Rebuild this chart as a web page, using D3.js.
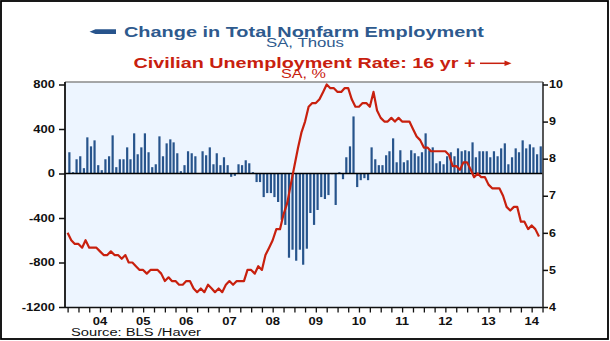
<!DOCTYPE html>
<html><head><meta charset="utf-8">
<script src="https://cdn.jsdelivr.net/npm/d3@7"></script>
<style>body{margin:0;background:#fff}svg{display:block}</style>
</head><body><svg id="c" width="610" height="341"></svg>
<script>
// ---- data (monthly, Oct 2003 .. Sep 2014) ----
const startYear = 2003, startMonth = 9; // October 2003 (0-based month index)
const payrollChange = [
  191, 12, 128,
  155, 48, 325, 244, 298, 75, 30, 128, 155, 343, 57, 128,
  128, 235, 128, 361, 173, 235, 361, 191, 57, 83, 334, 155,
  271, 307, 280, 182, 21, 75, 200, 182, 155, 3, 200, 164,
  235, 83, 182, 75, 146, 75, -30, -21, 83, 75, 119, 92,
  12, -77, -77, -212, -176, -176, -212, -256, -417, -462, -757, -685,
  -784, -685, -820, -676, -355, -462, -328, -212, -229, -194, -6, -283,
  12, -51, 146, 244, 513, -122, -60, -42, -60, 235, 128, 75,
  75, 164, 200, 316, 101, 209, 101, 119, 209, 182, 155, 191,
  361, 209, 235, 92, 110, 83, 155, 191, 155, 226, 200, 209,
  200, 280, 146, 200, 200, 200, 146, 200, 155, 226, 271, 83,
  146, 226, 191, 298, 226, 262, 235, 173, 244
];
const unemploymentRate = [
  6.0, 5.8, 5.7,
  5.7, 5.6, 5.8, 5.6, 5.6, 5.6, 5.5, 5.4, 5.4, 5.5, 5.4, 5.4,
  5.3, 5.4, 5.2, 5.2, 5.1, 5.0, 5.0, 4.9, 5.0, 5.0, 5.0, 4.9,
  4.7, 4.8, 4.7, 4.7, 4.6, 4.6, 4.7, 4.7, 4.5, 4.4, 4.5, 4.4,
  4.6, 4.5, 4.4, 4.5, 4.4, 4.6, 4.7, 4.6, 4.7, 4.7, 4.7, 5.0,
  5.0, 4.9, 5.1, 5.0, 5.4, 5.6, 5.8, 6.1, 6.1, 6.5, 6.8, 7.3,
  7.8, 8.3, 8.7, 9.0, 9.4, 9.5, 9.5, 9.6, 9.8, 10.0, 9.9, 9.9,
  9.8, 9.8, 9.9, 9.9, 9.6, 9.4, 9.4, 9.5, 9.5, 9.4, 9.8, 9.3,
  9.1, 9.0, 9.0, 9.1, 9.0, 9.1, 9.0, 9.0, 9.0, 8.8, 8.6, 8.5,
  8.3, 8.3, 8.2, 8.2, 8.2, 8.2, 8.2, 8.1, 7.8, 7.8, 7.7, 7.9,
  7.9, 7.7, 7.5, 7.6, 7.5, 7.5, 7.3, 7.2, 7.2, 7.2, 7.0, 6.7,
  6.6, 6.7, 6.7, 6.3, 6.3, 6.1, 6.2, 6.1, 5.9
];
const leftTicks = [800, 400, 0, -400, -800, -1200];
const rightTicks = [4, 5, 6, 7, 8, 9, 10];
const yearLabels = ["04","05","06","07","08","09","10","11","12","13","14"];
const yearValues = [2004,2005,2006,2007,2008,2009,2010,2011,2012,2013,2014];
const title1 = "Change in Total Nonfarm Employment";
const sub1 = "SA, Thous";
const title2 = "Civilian Unemployment Rate: 16 yr +";
const sub2 = "SA, %";
const source = "Source:  BLS /Haver";

// ---- setup ----
const BLUE = "#27548c", TBLUE = "#2e5a8e", RED = "#c8200e";
const FONT = "'Liberation Sans', Arial, sans-serif";
const L = 65, R = 543, T = 82, B = 307.5;
const svg = d3.select("#c");

const months = unemploymentRate.map((_, i) => new Date(startYear, startMonth + i, 1));
const x = d3.scaleTime().domain([new Date(2003, 8, 9), new Date(2014, 9, 5)]).range([L, R]);
const yL = d3.scaleLinear().domain([-1200, 800]).range([307, 84.5]);
const yR = d3.scaleLinear().domain([4, 10]).range([307, 84.5]);

// outer border
svg.append("rect").attr("x", 1).attr("y", 1).attr("width", 607).attr("height", 338)
  .attr("fill", "#fff").attr("stroke", "#000").attr("stroke-width", 1.8);

// plot background
svg.append("rect").attr("x", L).attr("y", T).attr("width", R - L).attr("height", B - T)
  .attr("fill", "#edf5ff");

// bars
const bw = 2.2;
svg.append("g").selectAll("rect").data(payrollChange).join("rect")
  .attr("x", (d, i) => x(new Date(startYear, startMonth + i, 16)) - bw / 2)
  .attr("width", bw)
  .attr("y", d => yL(Math.max(0, d)))
  .attr("height", d => Math.abs(yL(d) - yL(0)))
  .attr("fill", BLUE);

// zero line
svg.append("line").attr("x1", L).attr("x2", R).attr("y1", yL(0)).attr("y2", yL(0))
  .attr("stroke", "#000").attr("stroke-width", 1.6);

// unemployment line
svg.append("path").datum(unemploymentRate)
  .attr("d", d3.line().x((d, i) => x(months[i])).y(d => yR(d)))
  .attr("fill", "none").attr("stroke", RED).attr("stroke-width", 2.2)
  .attr("stroke-linejoin", "round");

// frame
svg.append("line").attr("x1", L).attr("x2", R).attr("y1", T).attr("y2", T).attr("stroke", "#8a8a8a").attr("stroke-width", 1.5);
svg.append("line").attr("x1", L).attr("x2", R).attr("y1", B).attr("y2", B).attr("stroke", "#111").attr("stroke-width", 1.5);
svg.append("line").attr("x1", L).attr("x2", L).attr("y1", T).attr("y2", B).attr("stroke", "#111").attr("stroke-width", 1.8);
svg.append("line").attr("x1", R).attr("x2", R).attr("y1", T).attr("y2", B).attr("stroke", "#444").attr("stroke-width", 1.8);

// left axis
const gL = svg.append("g").attr("transform", `translate(${L},0)`)
  .call(d3.axisLeft(yL).tickValues(leftTicks).tickSize(6).tickFormat(""));
gL.select(".domain").remove();
gL.selectAll("line").attr("stroke", "#111").attr("stroke-width", 1.5);
leftTicks.forEach(v => {
  svg.append("text").attr("transform", `translate(55,${yL(v) + 3.7}) scale(1.3,1)`)
    .attr("text-anchor", "end").attr("font-family", FONT).attr("font-weight", "bold")
    .attr("font-size", 10).attr("fill", "#111").text(v);
});

// right axis
const gR = svg.append("g").attr("transform", `translate(${R},0)`)
  .call(d3.axisRight(yR).tickValues(rightTicks).tickSize(5).tickFormat(""));
gR.select(".domain").remove();
gR.selectAll("line").attr("stroke", "#111").attr("stroke-width", 1.5);
rightTicks.forEach(v => {
  svg.append("text").attr("transform", `translate(549,${yR(v) + 3.7}) scale(1.25,1)`)
    .attr("text-anchor", "start").attr("font-family", FONT).attr("font-weight", "bold")
    .attr("font-size", 10).attr("fill", "#111").text(v);
});

// bottom axis: quarterly ticks
const qTicks = d3.timeMonth.range(new Date(2003, 9, 1), new Date(2014, 9, 2), 3);
const gB = svg.append("g").attr("transform", `translate(0,${B})`)
  .call(d3.axisBottom(x).tickValues(qTicks).tickSize(5).tickFormat(""));
gB.select(".domain").remove();
gB.selectAll("line").attr("stroke", "#111").attr("stroke-width", 1.3);
yearValues.forEach((yv, i) => {
  const xm = x(new Date(yv, 6, 1));
  svg.append("text").attr("transform", `translate(${xm},324.8) scale(1.3,1)`)
    .attr("text-anchor", "middle").attr("font-family", FONT).attr("font-weight", "bold")
    .attr("font-size", 10).attr("fill", "#111").text(yearLabels[i]);
});

// source
svg.append("text").attr("x", 71).attr("y", 336.4).attr("font-family", FONT)
  .attr("font-size", 10).attr("fill", "#111")
  .attr("textLength", 130).attr("lengthAdjust", "spacingAndGlyphs").text(source);

// titles
svg.append("path").attr("d", "M89.5,31.7 L95.5,29.3 L116,29.3 L116,34.1 L95.5,34.1 Z").attr("fill", BLUE);
svg.append("text").attr("x", 124).attr("y", 37.3).attr("font-family", FONT).attr("font-weight", "bold")
  .attr("font-size", 15.5).attr("fill", TBLUE)
  .attr("textLength", 360).attr("lengthAdjust", "spacingAndGlyphs").text(title1);
svg.append("text").attr("x", 266).attr("y", 47.3).attr("font-family", FONT)
  .attr("font-size", 12.5).attr("fill", TBLUE)
  .attr("textLength", 78).attr("lengthAdjust", "spacingAndGlyphs").text(sub1);
svg.append("text").attr("x", 133.5).attr("y", 68.3).attr("font-family", FONT).attr("font-weight", "bold")
  .attr("font-size", 15.5).attr("fill", RED)
  .attr("textLength", 342).attr("lengthAdjust", "spacingAndGlyphs").text(title2);
svg.append("line").attr("x1", 480).attr("x2", 508).attr("y1", 63.3).attr("y2", 63.3)
  .attr("stroke", RED).attr("stroke-width", 1.5);
svg.append("path").attr("d", "M511.5,63.3 L504.5,60.6 L504.5,66 Z").attr("fill", RED);
svg.append("text").attr("x", 281).attr("y", 78.3).attr("font-family", FONT)
  .attr("font-size", 12.5).attr("fill", RED)
  .attr("textLength", 45).attr("lengthAdjust", "spacingAndGlyphs").text(sub2);
</script></body></html>
